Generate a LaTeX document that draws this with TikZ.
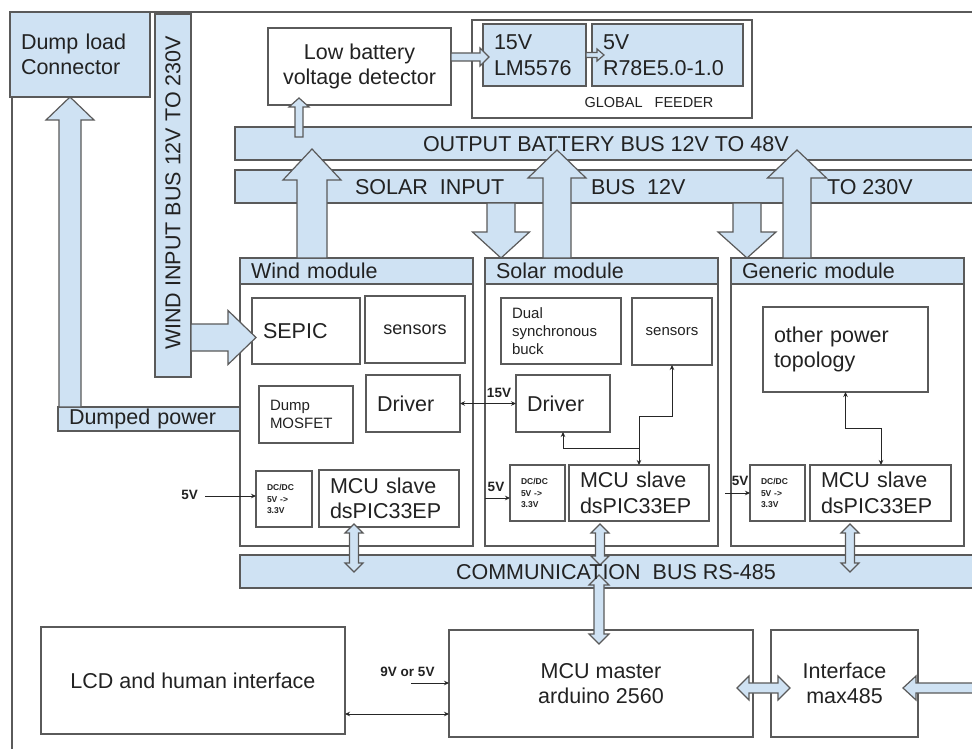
\documentclass[tikz,border=0pt]{standalone}
\usepackage{fontspec}
\setmainfont{Liberation Sans}
\usetikzlibrary{arrows.meta}
\definecolor{lb}{HTML}{CFE2F3}
\definecolor{ln}{HTML}{5A5A5A}
\definecolor{tx}{HTML}{222222}
\newcommand\mkbox[7]{%
 \pgfmathsetmacro\bw{#4-#2}\pgfmathsetmacro\bh{#5-#3}%
 \pgfmathsetmacro\bcx{(#2+#4)/2}\pgfmathsetmacro\bcy{(#3+#5)/2}%
 \node[bx,minimum width=\bw pt,minimum height=\bh pt,#6] (#1) at (\bcx,\bcy) {#7};}
\newcommand\mkboxl[7]{%
 \pgfmathsetmacro\bw{#4-#2}\pgfmathsetmacro\bh{#5-#3}\pgfmathsetmacro\tw{#4-#2-22}%
 \pgfmathsetmacro\bcx{(#2+#4)/2}\pgfmathsetmacro\bcy{(#3+#5)/2}%
 \node[bx,minimum width=\bw pt,minimum height=\bh pt,inner xsep=11pt,text width=\tw pt,align=left,#6] (#1) at (\bcx,\bcy) {#7};}
% vertical block arrow: x, ybase, yhead, ytip, halfshaft, halfhead
\newcommand\vblock[6]{%
 \filldraw[blk] ({#1-#5},#2) -- ({#1-#5},#3) -- ({#1-#6},#3) -- (#1,#4) -- ({#1+#6},#3) -- ({#1+#5},#3) -- ({#1+#5},#2) -- cycle;}
% horizontal block arrow: y, xbase, xhead, xtip, halfshaft, halfhead
\newcommand\hblock[6]{%
 \filldraw[blk] (#2,{#1-#5}) -- (#3,{#1-#5}) -- (#3,{#1-#6}) -- (#4,#1) -- (#3,{#1+#6}) -- (#3,{#1+#5}) -- (#2,{#1+#5}) -- cycle;}
% vertical double block arrow: x, y1tip, y1head, y2head, y2tip, halfshaft, halfhead
\newcommand\vdbl[7]{%
 \filldraw[blk] (#1,#2) -- ({#1+#7},#3) -- ({#1+#6},#3) -- ({#1+#6},#4) -- ({#1+#7},#4) -- (#1,#5) -- ({#1-#7},#4) -- ({#1-#6},#4) -- ({#1-#6},#3) -- ({#1-#7},#3) -- cycle;}
% horizontal double block arrow: y, x1tip, x1head, x2head, x2tip, halfshaft, halfhead
\newcommand\hdbl[7]{%
 \filldraw[blk] (#2,#1) -- (#3,{#1+#7}) -- (#3,{#1+#6}) -- (#4,{#1+#6}) -- (#4,{#1+#7}) -- (#5,#1) -- (#4,{#1-#7}) -- (#4,{#1-#6}) -- (#3,{#1-#6}) -- (#3,{#1-#7}) -- cycle;}
\tikzset{
 every node/.style={text=tx},
 bx/.style={draw=ln,line width=1.2pt,inner sep=0pt,outer sep=0pt},
 tn/.style={inner sep=0pt,outer sep=0pt},
 blk/.style={fill=lb,draw=ln,line width=1.2pt,line join=miter},
 big/.style={font=\fontsize{21.5}{25.5}\selectfont},
 med/.style={font=\fontsize{18}{22}\selectfont},
 sml/.style={font=\fontsize{15}{18.3}\selectfont},
 tiny/.style={font=\bfseries\fontsize{8.5}{11.5}\selectfont},
 lab/.style={font=\bfseries\fontsize{13.5}{16}\selectfont},
 conn/.style={draw=black!85,line width=0.9pt},
 tip/.tip={Stealth[length=5pt,width=4.5pt]},
}
\begin{document}
\begin{tikzpicture}[x=1pt,y=-1pt]
\useasboundingbox (0,0) rectangle (972,749);
\fill[white] (0,0) rectangle (972,749);
% outer frame
\draw[ln,line width=1.2pt] (12,749) -- (12,12) -- (985,12);
% top area
\mkboxl{dump}{10}{12}{150}{97}{fill=lb,big}{Dump load\\Connector}
\mkbox{wbus}{155}{14}{191}{377}{fill=lb}{}
\node[tn,big,rotate=90] (wbustxt) at (173,193) {WIND INPUT BUS 12V TO 230V};
\mkbox{lowbat}{268}{28}{451}{105}{big,align=center}{Low battery\\voltage detector}
\mkbox{feeder}{472}{20}{752}{118}{}{}
\mkboxl{f15}{483}{24}{586}{86}{fill=lb,big}{15V\\LM5576}
\mkboxl{f5}{592}{24}{743}{86}{fill=lb,big}{5V\\R78E5.0-1.0}
\node[tn,font=\fontsize{14.5}{16}\selectfont] (gftxt) at (649,103) {GLOBAL\ \ \ FEEDER};
% buses
\mkbox{obus}{235}{127}{985}{160}{fill=lb}{}
\mkbox{sbus}{235}{170}{985}{203}{fill=lb}{}
\mkbox{cbus}{240}{555}{985}{588}{fill=lb}{}
% dumped power
\mkboxl{dpow}{58}{407}{240}{431}{fill=lb,big}{Dumped power}
% wind module
\mkbox{wmod}{240}{258}{473}{546}{}{}
\mkboxl{wtit}{240}{258}{473}{284}{fill=lb,big}{Wind module}
\mkboxl{wsepic}{252}{298}{360}{364}{big}{SEPIC}
\mkbox{wsen}{365}{296}{465}{363}{med}{sensors}
\mkboxl{wdump}{259}{386}{353}{443}{sml}{Dump\\MOSFET}
\mkboxl{wdrv}{366}{375}{460}{432}{big}{Driver}
\mkboxl{wdc}{256}{471}{312}{527}{tiny}{DC/DC\\5V ->\\3.3V}
\mkboxl{wmcu}{319}{470}{459}{527}{big}{MCU slave\\dsPIC33EP}
% solar module
\mkbox{smod}{485}{258}{718}{546}{}{}
\mkboxl{stit}{485}{258}{718}{284}{fill=lb,big}{Solar module}
\mkboxl{sbuck}{501}{298}{621}{364}{sml}{Dual\\synchronous\\buck}
\mkbox{ssen}{632}{298}{712}{365}{sml}{sensors}
\mkboxl{sdrv}{516}{375}{610}{432}{big}{Driver}
\mkboxl{sdc}{510}{465}{565}{521}{tiny}{DC/DC\\5V ->\\3.3V}
\mkboxl{smcu}{569}{465}{709}{521}{big}{MCU slave\\dsPIC33EP}
% generic module
\mkbox{gmod}{731}{258}{964}{546}{}{}
\mkboxl{gtit}{731}{258}{964}{284}{fill=lb,big}{Generic module}
\mkboxl{gtop}{763}{307}{928}{392}{big}{other power\\topology}
\mkboxl{gdc}{750}{465}{805}{521}{tiny}{DC/DC\\5V ->\\3.3V}
\mkboxl{gmcu}{810}{465}{951}{521}{big}{MCU slave\\dsPIC33EP}
% bottom
\mkbox{lcd}{41}{627}{345}{734}{big}{LCD and human interface}
\mkbox{master}{449}{630}{753}{737}{big,align=center}{MCU master\\arduino 2560}
\mkbox{iface}{771}{630}{918}{737}{big,align=center}{Interface\\max485}
% block arrows
\vblock{70}{407}{120}{97}{11}{24}
\vblock{299}{137}{107}{98}{4}{10}
\hblock{57}{451}{480}{489}{4}{9}
\hblock{55}{586}{597}{604}{2.5}{6}
\vblock{312}{258}{180}{149}{15}{29}
\vblock{501}{203}{232}{258}{14}{28.5}
\vblock{557}{258}{178}{150}{14}{29}
\vblock{747}{203}{232}{258}{14}{29}
\vblock{797}{258}{178}{150}{14}{29.5}
\hblock{337.5}{191}{228}{256}{13.5}{27}
\vdbl{354}{524}{533}{563}{572}{4.5}{9}
\vdbl{600}{524}{533}{556}{565}{4.5}{9}
\vdbl{850}{524}{533}{563}{572}{4.5}{9}
\vdbl{599}{575}{585}{634}{644}{5}{10}
\hdbl{688}{737}{749}{778}{790}{5}{12}
\hblock{688}{985}{916}{903}{5}{12}
% bus texts on top
\node[tn,big,anchor=west] (obustxt) at (423,144) {OUTPUT BATTERY BUS 12V TO 48V};
\node[tn,big,anchor=west] (sbt1) at (355,187) {SOLAR\ \ INPUT};
\node[tn,big,anchor=west] (sbt2) at (591,187) {BUS\ \ 12V};
\node[tn,big,anchor=west] (sbt3) at (827,187) {TO 230V};
\node[tn,big,anchor=west] (cbt) at (456,572) {COMMUNICATION\ \ BUS RS-485};
% thin connectors
\draw[conn,tip-tip] (wdrv.east) -- (sdrv.west);
\node[tn,lab] (l15) at (499,393) {15V};
\coordinate (w5) at (205,496);
\draw[conn,-tip] (w5) -- (w5 -| wdc.west);
\node[tn,lab,anchor=east] (w5lab) at (198,495) {5V};
\coordinate (s5) at (485,498);
\draw[conn,-tip] (s5) -- (s5 -| sdc.west);
\node[tn,lab] (s5lab) at (496,487) {5V};
\coordinate (g5) at (725,493);
\draw[conn,-tip] (g5) -- (g5 -| gdc.west);
\node[tn,lab] (g5lab) at (740,481) {5V};
\draw[conn,tip-tip] ([xshift=70pt]smcu.north west) -- ++(0,-49) -| (ssen.south);
\draw[conn,-tip] ([xshift=70pt]smcu.north west) ++(0,-17) -| (sdrv.south);
\draw[conn,tip-tip] ([xshift=71pt]gmcu.north west) -- ++(0,-37) -| (gtop.south);
\coordinate (ly) at (0,714);
\draw[conn,tip-tip] (lcd.east |- ly) -- (master.west |- ly);
\coordinate (n9) at (411,683);
\draw[conn,-tip] (n9) -- (n9 -| master.west);
\node[tn,lab] (n9lab) at (407.5,672) {9V or 5V};
\end{tikzpicture}
\end{document}
